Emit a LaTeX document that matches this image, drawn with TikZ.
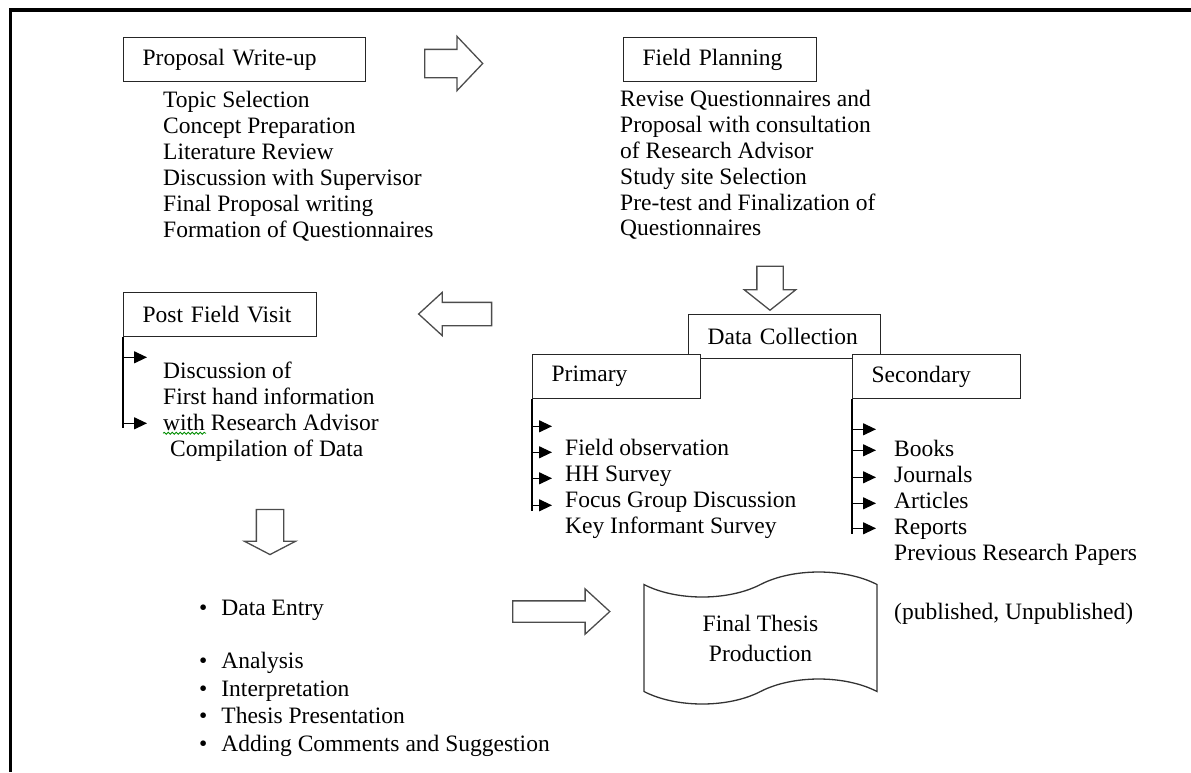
\documentclass[tikz,border=0pt]{standalone}
\usepackage{fontspec}
\setmainfont{Liberation Serif}
\usetikzlibrary{positioning,shapes.arrows,shapes.symbols,arrows.meta,decorations.pathmorphing}

\tikzset{
  stage/.style={draw=black!85, line width=1.3pt, fill=white, minimum height=44pt,
    inner xsep=19pt, text width=#1, align=left, font=\fontsize{23.5}{26}\selectfont},
  list/.style={inner sep=0pt, align=left, font=\fontsize{23.5}{#1}\selectfont},
  hollow/.style={single arrow, draw=black!70, line width=1.3pt},
  pointer/.style={-{Triangle[length=13pt,width=12pt]}, line width=1.2pt},
  bracket/.style={line width=1.2pt}
}

\begin{document}
\begin{tikzpicture}[x=1pt, y=-1pt]
    \useasboundingbox (0,0) rectangle (1191,772);
    % page frame
    \draw[line width=4pt] (9,10.3) -- (1191,10.3);
    \draw[line width=2.6pt] (10.6,8.3) -- (10.6,772);

    % stages
    \node[stage=204pt, anchor=north west] (prop) at (123,37) {Proposal Write-up};
    \node[stage=155pt, anchor=north west] (field) at (623,37) {Field Planning};
    \node[stage=155pt, anchor=north west] (post) at (123,292) {Post Field Visit};
    \node[stage=154pt, anchor=north west] (data) at (688,314) {Data Collection};
    \node[stage=130pt, anchor=north west] (prim) at (532,354) {Primary};
    \node[stage=130pt, anchor=north west] (sec) at (852,354) {Secondary};

    % lists under the stages
    \node[list=26pt, below right=9pt and 40pt of prop.south west] (propList)
        {Topic Selection\\Concept Preparation\\Literature Review\\Discussion with Supervisor\\Final Proposal writing\\Formation of Questionnaires};
    \node[list=25.8pt, below right=8pt and -3pt of field.south west] (fieldList)
        {Revise Questionnaires and\\Proposal with consultation\\of Research Advisor\\Study site Selection\\Pre-test and Finalization of\\Questionnaires};
    \node[list=26.3pt, below right=24pt and 40pt of post.south west] (postList)
        {Discussion of\\First hand information\\with Research Advisor\\\hspace*{7pt}Compilation of Data};
    \node[list=26pt, below right=40pt and 33pt of prim.south west] (primList)
        {Field observation\\HH Survey\\Focus Group Discussion\\Key Informant Survey};
    \node[list=26pt, below right=41pt and 42pt of sec.south west] (secList)
        {Books\\Journals\\Articles\\Reports\\Previous Research Papers\\[33pt](published, Unpublished)};
    \node[list=27.7pt, anchor=north west] (tasks) at (199,600)
        {\textbullet\hspace{14pt}Data Entry\\[25pt]\textbullet\hspace{14pt}Analysis\\\textbullet\hspace{14pt}Interpretation\\\textbullet\hspace{14pt}Thesis Presentation\\\textbullet\hspace{14pt}Adding Comments and Suggestion};

    % spell-check mark under "with"
    \draw[green!55!black, line width=0.8pt, decorate, decoration={snake, amplitude=1pt, segment length=4pt}]
        ([yshift=-72pt]postList.north west) -- ++(43,0);

    % final output
    \node[tape, draw=black!80, line width=1.3pt, minimum width=233pt, minimum height=132pt,
        tape bend height=25pt, align=center, font=\fontsize{23.5}{30}\selectfont] (thesis) at (760.5,638)
        {Final Thesis\\Production};

    % hollow arrows
    \node[hollow, inner sep=13.5pt, minimum height=58pt, minimum width=53pt,
        single arrow head extend=13pt, single arrow tip angle=93] (toField) at (447,63.5) {};
    \node[hollow, inner sep=12.5pt, minimum height=44pt, minimum width=50pt,
        single arrow head extend=12.5pt, single arrow tip angle=103, shape border rotate=270] (toData) at (770,283) {};
    \node[hollow, inner sep=11pt, minimum height=73pt, minimum width=42pt,
        single arrow head extend=10pt, single arrow tip angle=85, shape border rotate=180] (toPost) at (461.5,314) {};
    \node[hollow, inner sep=13pt, minimum height=45pt, minimum width=50pt,
        single arrow head extend=12pt, single arrow tip angle=125, shape border rotate=270] (toTasks) at (270,528.5) {};
    \node[hollow, inner sep=10pt, minimum height=97pt, minimum width=44pt,
        single arrow head extend=12pt, single arrow tip angle=85] (toThesis) at (555.5,611.5) {};

    % brackets with pointers
    \draw[bracket] (post.south west) -- ++(0,91);
    \foreach \d in {20,86}
        \draw[pointer] ([yshift=-\d pt]post.south west) -- ++(24,0);
    \draw[bracket] (prim.south west) -- ++(0,112);
    \foreach \d in {27,53,79,106}
        \draw[pointer] ([yshift=-\d pt]prim.south west) -- ++(20,0);
    \draw[bracket] (sec.south west) -- ++(0,135);
    \foreach \d in {30,51,78,104,129}
        \draw[pointer] ([yshift=-\d pt]sec.south west) -- ++(24,0);
\end{tikzpicture}
\end{document}
